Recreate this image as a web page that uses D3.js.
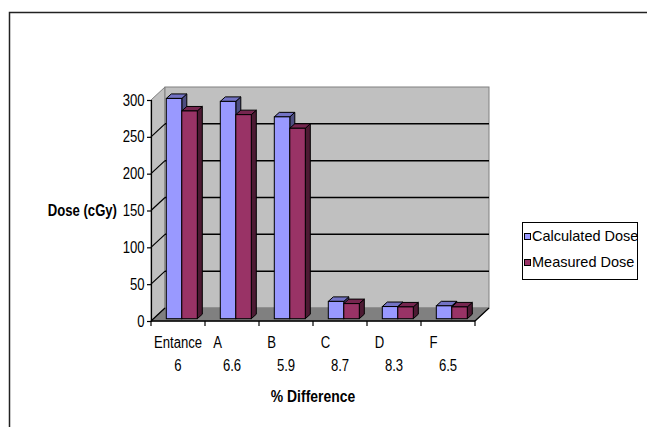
<!DOCTYPE html>
<html>
<head>
<meta charset="utf-8">
<script src="https://cdn.jsdelivr.net/npm/d3@7"></script>
<style>
  html, body { margin: 0; padding: 0; background: #fff; }
  svg { display: block; font-family: "Liberation Sans", Arial, sans-serif; }
</style>
</head>
<body>
<svg id="chart" width="647" height="427"></svg>
<script>
// Dose per measurement point, with the % difference shown under each point name
const categories = ["Entance", "A", "B", "C", "D", "F"];
const percentDiff = ["6", "6.6", "5.9", "8.7", "8.3", "6.5"];
const seriesNames = ["Calculated Dose", "Measured Dose"];
const calculatedDose = [299, 295, 274, 23.5, 16.5, 17.5];
const measuredDose = [282, 277, 258.5, 20.5, 16, 16];
const yTicks = [0, 50, 100, 150, 200, 250, 300];

const seriesValues = [calculatedDose, measuredDose];
const colors = {
  front: ["#9999ff", "#993366"],
  top:   ["#7373c4", "#76264f"],
  side:  ["#4d4d80", "#4d1a33"]
};

// condensed lettering: Liberation Sans squeezed horizontally
const SQUEEZE = 0.82;

const svg = d3.select("#chart");

function narrowText(parent, x, y, str, size, anchor, weight) {
  return parent.append("text")
    .attr("transform", `translate(${x},${y}) scale(${SQUEEZE},1)`)
    .attr("text-anchor", anchor || "start")
    .attr("font-size", size)
    .attr("font-weight", weight || "normal")
    .attr("fill", "#000")
    .text(str);
}

// Outer chart frame (extends past the right and bottom of the view)
svg.append("rect")
  .attr("x", 9.5).attr("y", 12.5)
  .attr("width", 700).attr("height", 500)
  .attr("fill", "none").attr("stroke", "#222").attr("stroke-width", 1.5);

// Plot geometry: front plane and the oblique depth offset of the walls
const x0 = 151, x1 = 475;
const depth = { dx: 14, dy: -13 };
const y = d3.scaleLinear().domain([0, 300]).range([321, 100]);
const x = d3.scaleBand().domain(categories).range([x0, x1]).padding(0);
const xs = d3.scaleBand().domain(seriesNames).range([0, x.bandwidth()]).paddingInner(0).paddingOuter(0.742);

// bar front-face depth and the bar's own thickness
const barShift = { dx: 3.8, dy: -2.3 };
const barDepth = { dx: 5, dy: -4.5 };

const pts = a => a.map(p => p.join(",")).join(" ");
const g = svg.append("g");

// Left side wall
g.append("polygon")
  .attr("points", pts([[x0, y(0)], [x0, y(300)], [x0 + depth.dx, y(300) + depth.dy], [x0 + depth.dx, y(0) + depth.dy]]))
  .attr("fill", "#c0c0c0").attr("stroke", "#808080").attr("stroke-width", 1);

// Back wall
g.append("rect")
  .attr("x", x0 + depth.dx).attr("y", y(300) + depth.dy)
  .attr("width", x1 - x0).attr("height", y(0) - y(300))
  .attr("fill", "#c0c0c0").attr("stroke", "#808080").attr("stroke-width", 1);

// Floor
g.append("polygon")
  .attr("points", pts([[x0, y(0)], [x1, y(0)], [x1 + depth.dx, y(0) + depth.dy], [x0 + depth.dx, y(0) + depth.dy]]))
  .attr("fill", "#808080").attr("stroke", "#808080").attr("stroke-width", 1);

// Gridlines on the back wall and across the side wall
yTicks.filter(t => t > 0 && t < 300).forEach(t => {
  g.append("line")
    .attr("x1", x0 + depth.dx).attr("x2", x1 + depth.dx)
    .attr("y1", y(t) + depth.dy).attr("y2", y(t) + depth.dy)
    .attr("stroke", "#000").attr("stroke-width", 1.5);
});
yTicks.filter(t => t < 300).forEach(t => {
  g.append("line")
    .attr("x1", x0).attr("y1", y(t))
    .attr("x2", x0 + depth.dx).attr("y2", y(t) + depth.dy)
    .attr("stroke", "#000").attr("stroke-width", 1.2);
});

// Floor right edge
g.append("line")
  .attr("x1", x1).attr("y1", y(0))
  .attr("x2", x1 + depth.dx).attr("y2", y(0) + depth.dy)
  .attr("stroke", "#000").attr("stroke-width", 1.2);

// 3D columns
const bars = g.append("g");
categories.forEach((c, i) => {
  seriesNames.forEach((s, j) => {
    const v = seriesValues[j][i];
    const bx = x(c) + xs(s) + barShift.dx;
    const bw = xs.bandwidth();
    const yb = y(0) + barShift.dy;
    const yt = y(v) + barShift.dy;
    const bg = bars.append("g");
    bg.append("polygon")
      .attr("points", pts([[bx + bw, yt], [bx + bw + barDepth.dx, yt + barDepth.dy], [bx + bw + barDepth.dx, yb + barDepth.dy], [bx + bw, yb]]))
      .attr("fill", colors.side[j]).attr("stroke", "#000").attr("stroke-width", 1).attr("stroke-linejoin", "round");
    bg.append("polygon")
      .attr("points", pts([[bx, yt], [bx + barDepth.dx, yt + barDepth.dy], [bx + bw + barDepth.dx, yt + barDepth.dy], [bx + bw, yt]]))
      .attr("fill", colors.top[j]).attr("stroke", "#000").attr("stroke-width", 1).attr("stroke-linejoin", "round");
    bg.append("rect")
      .attr("x", bx).attr("y", yt).attr("width", bw).attr("height", yb - yt)
      .attr("fill", colors.front[j]).attr("stroke", "#000").attr("stroke-width", 1);
  });
});

// Y axis
const yAxis = d3.axisLeft(y).tickValues(yTicks).tickSize(4).tickPadding(2).tickFormat(d3.format("d"));
const ya = svg.append("g").attr("transform", `translate(${x0},0)`).call(yAxis);
ya.attr("font-family", null).attr("font-size", null);
ya.select(".domain").attr("stroke", "#000").attr("stroke-width", 1.2);
ya.selectAll(".tick line").attr("stroke", "#000").attr("stroke-width", 1.2);
ya.selectAll(".tick text")
  .attr("x", -6.5 / SQUEEZE)
  .attr("transform", `scale(${SQUEEZE},1)`)
  .attr("font-size", 16).attr("fill", "#000");

// X axis: front floor edge with ticks at category boundaries
svg.append("line")
  .attr("x1", x0).attr("x2", x1).attr("y1", y(0)).attr("y2", y(0))
  .attr("stroke", "#000").attr("stroke-width", 1.5);
const bounds = categories.map(c => x(c)).concat([x1]);
svg.selectAll(".xtick").data(bounds).enter().append("line")
  .attr("x1", d => d).attr("x2", d => d)
  .attr("y1", y(0)).attr("y2", y(0) + 5)
  .attr("stroke", "#000").attr("stroke-width", 1.2);

// Category labels: point name and % difference
const labels = svg.append("g");
categories.forEach((c, i) => {
  const cx = x(c) + x.bandwidth() / 2;
  narrowText(labels, i === 0 ? cx : cx - 14.5, 348, c, 16, "middle");
  narrowText(labels, cx, 371, percentDiff[i], 16, "middle");
});

// Axis titles
narrowText(svg, 117, 216, "Dose (cGy)", 16, "end", "bold");
narrowText(svg, 313, 402, "% Difference", 17, "middle", "bold");

// Legend
const lg = svg.append("g");
lg.append("rect")
  .attr("x", 522.5).attr("y", 222.5).attr("width", 115).attr("height", 57)
  .attr("fill", "#fff").attr("stroke", "#000").attr("stroke-width", 1);
seriesNames.forEach((s, j) => {
  const ry = 231 + j * 26;
  lg.append("rect")
    .attr("x", 524.5).attr("y", ry + 2.5).attr("width", 6).attr("height", 6)
    .attr("fill", colors.front[j]).attr("stroke", "#000").attr("stroke-width", 1);
  lg.append("text")
    .attr("x", 532).attr("y", ry + 10)
    .attr("font-size", 14.5).attr("fill", "#000").text(s);
});
</script>
</body>
</html>
